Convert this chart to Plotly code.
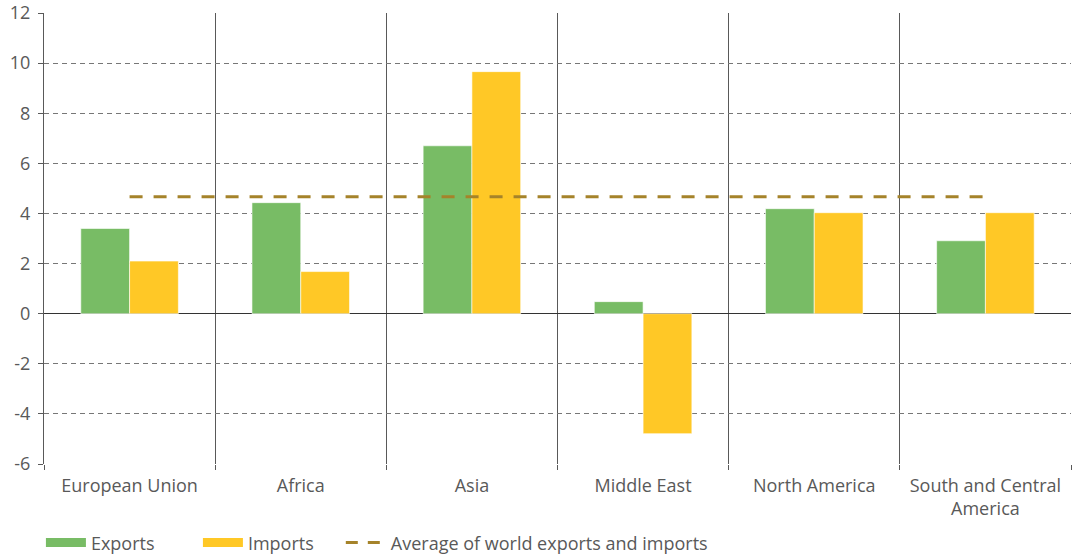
import plotly.graph_objects as go

# Annual growth by region (%)
regions = ["European Union", "Africa", "Asia", "Middle East", "North America",
           "South and Central<br>America"]
exports = [3.4, 4.43, 6.7, 0.48, 4.19, 2.91]
imports = [2.1, 1.68, 9.66, -4.79, 4.03, 4.03]
world_average = 4.67

y_ticks = [-6, -4, -2, 0, 2, 4, 6, 8, 10, 12]
y_tick_labels = [str(v) for v in y_ticks]

GREEN = "#78bc65"
YELLOW = "#ffc826"
GOLD = "#a5832a"
TEXT = "#595959"
FONT = "Open Sans"

fig = go.Figure()

fig.add_trace(go.Bar(x=regions, y=exports, name="Exports", marker_color=GREEN,
                     marker_line=dict(color="white", width=0.6), showlegend=False))
fig.add_trace(go.Bar(x=regions, y=imports, name="Imports", marker_color=YELLOW,
                     marker_line=dict(color="white", width=0.6), showlegend=False))
fig.add_trace(go.Scatter(x=regions, y=[world_average] * len(regions), mode="lines",
                         line=dict(color=GOLD, width=3, dash="13px,11px"),
                         showlegend=False, hoverinfo="skip"))

# Legend entries drawn as thick line swatches
fig.add_trace(go.Scatter(x=[None], y=[None], mode="lines", name="Exports",
                         line=dict(color=GREEN, width=9), legend="legend"))
fig.add_trace(go.Scatter(x=[None], y=[None], mode="lines", name="Imports",
                         line=dict(color=YELLOW, width=9), legend="legend"))
fig.add_trace(go.Scatter(x=[None], y=[None], mode="lines",
                         name="Average of world exports and imports",
                         line=dict(color=GOLD, width=3, dash="12px,10px"),
                         legend="legend2"))

legend_common = dict(orientation="h", xanchor="left", yref="container",
                     y=0.022, yanchor="middle", itemwidth=40,
                     font=dict(family=FONT, size=18, color=TEXT),
                     traceorder="normal", bgcolor="rgba(0,0,0,0)")

fig.update_layout(
    width=1078, height=555,
    margin=dict(l=44, r=7, t=13, b=91),
    paper_bgcolor="white", plot_bgcolor="white",
    barmode="group", bargap=0.43, bargroupgap=0,
    font=dict(family=FONT, size=18, color=TEXT),
    legend=dict(legend_common, x=-0.003, entrywidth=102, entrywidthmode="pixels"),
    legend2=dict(legend_common, x=0.289),
    xaxis=dict(type="category", tickson="boundaries", showgrid=True,
               gridcolor="#595959", gridwidth=1, ticks="outside", ticklen=5,
               tickcolor="#595959", showline=False, zeroline=False,
               automargin=False, ticklabelstandoff=9,
               tickfont=dict(family=FONT, size=18, color=TEXT)),
    yaxis=dict(range=[-6, 12], tickvals=y_ticks, ticktext=y_tick_labels,
               showgrid=True, gridcolor="#777777",
               griddash="5px,4px", gridwidth=1, zeroline=True, zerolinecolor="#333333",
               zerolinewidth=1, showline=True, linecolor="#595959", linewidth=1,
               ticks="outside", ticklen=5, tickcolor="#595959", automargin=False,
               ticklabelstandoff=4,
               tickfont=dict(family=FONT, size=18, color=TEXT)),
)

fig.write_html("out.html")
